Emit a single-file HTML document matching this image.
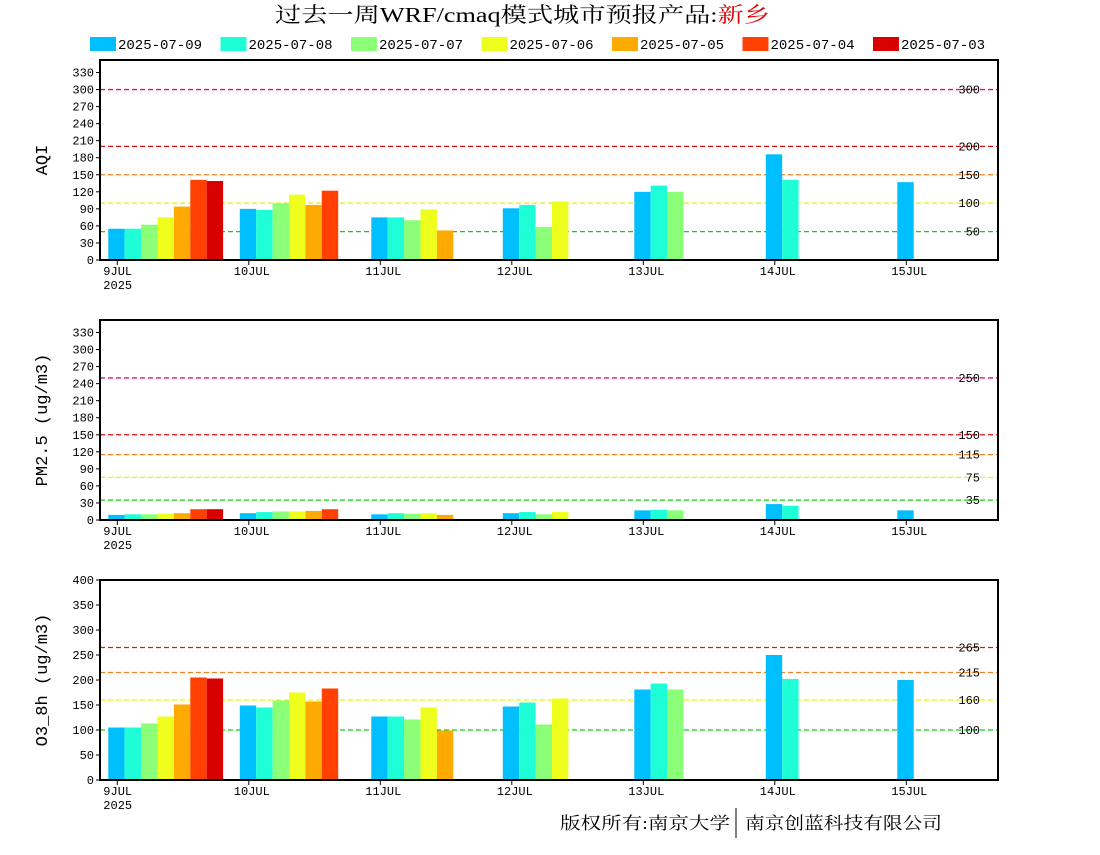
<!DOCTYPE html>
<html><head><meta charset="utf-8"><style>
body{margin:0;background:#fff;}
svg text{font-family:"Liberation Mono","Noto Sans CJK SC",monospace;}
</style></head><body>
<svg id="c" width="1100" height="850" viewBox="0 0 1100 850">
<text x="275" y="22" textLength="495" lengthAdjust="spacingAndGlyphs" font-size="21" style="font-family:'Liberation Serif','Noto Serif CJK SC',serif">过去一周WRF/cmaq模式城市预报产品:<tspan fill="#e00000">新乡</tspan></text>
<g id="legend"></g>
<g id="panels"></g>
<text x="560" y="829" textLength="170" lengthAdjust="spacingAndGlyphs" font-size="17" style="font-family:'Liberation Serif','Noto Serif CJK SC',serif">版权所有:南京大学</text>
<line x1="736" y1="808" x2="736" y2="838" stroke="#000"/>
<text x="745" y="829" textLength="197" lengthAdjust="spacingAndGlyphs" font-size="17" style="font-family:'Noto Serif CJK SC',serif">南京创蓝科技有限公司</text>
</svg>
<script>
const seriesNames=["2025-07-09","2025-07-08","2025-07-07","2025-07-06","2025-07-05","2025-07-04","2025-07-03"];
const colors=["#00bfff","#1effd8","#8cff78","#eeff1e","#ffaa00","#ff4000","#d90000"];
const days=["9JUL","10JUL","11JUL","12JUL","13JUL","14JUL","15JUL"];
const aqiValues=[[55,55,62,75,94,141,139],[90,88,100,115,97,122],[75,75,70,89,52],[91,97,58,103],[120,131,120],[186,141],[137]];
const pm25Values=[[9,10,10,11,12,19,19],[12,14,15,15,16,19],[10,12,11,12,9],[12,14,10,14],[17,18,17],[28,25],[17]];
const o3Values=[[105,105,113,127,151,205,203],[149,145,159,175,157,183],[127,127,121,145,99],[147,155,111,163],[181,193,181],[250,202],[200]];
const aqiTicks=[0,30,60,90,120,150,180,210,240,270,300,330];
const pmTicks=[0,30,60,90,120,150,180,210,240,270,300,330];
const o3Ticks=[0,50,100,150,200,250,300,350,400];
const aqiRefs=[300,200,150,100,50];
const pmRefs=[250,150,115,75,35];
const o3Refs=[265,215,160,100];
const refColors5=["#e0107a","#e01010","#f08020","#f0f000","#10d010"];
const refColors4=["#f01010","#f08020","#f0f000","#10d010"];
const NS="http://www.w3.org/2000/svg";
function mk(t,a,p){const e=document.createElementNS(NS,t);for(const k in a)e.setAttribute(k,a[k]);p.appendChild(e);return e;}
const lg=document.getElementById('legend');
seriesNames.forEach((n,i)=>{const x=90+i*130.5;
 const r=mk('rect',{x:x,y:37,width:26,height:14,fill:colors[i]},lg);
 
 const t=mk('text',{x:x+28,y:49,'font-size':14},lg);t.textContent=n;
 });
const L=100,R=998,X0=117.3,DX=131.5,BW=16.4;
function xDay(d){return X0+d*DX;}
function panel(name,top,max,ticks,vals,refs,rc,ylabel){
 const bot=top+200;const g=mk('g',{},document.getElementById('panels'));
 
 const y=v=>bot-v/max*200;
 refs.forEach((r,i)=>{const l=mk('line',{x1:L,x2:R,y1:y(r),y2:y(r),stroke:rc[i],'stroke-dasharray':'5,3','stroke-width':1.3},g);
  
  const t=mk('text',{x:980,y:y(r)+4,'text-anchor':'end','font-size':12},g);t.textContent=r;
  });
 vals.forEach((arr,d)=>arr.forEach((v,i)=>{const b=mk('rect',{x:xDay(d)-9+i*BW,y:y(v),width:BW,height:bot-y(v),fill:colors[i]},g);
  }));
 const f=mk('rect',{x:L,y:top,width:R-L,height:200,fill:'none',stroke:'#000','stroke-width':2},g);
 
 ticks.forEach(t=>{mk('line',{x1:L-4,x2:L,y1:y(t),y2:y(t),stroke:'#000'},g);
  const tx=mk('text',{x:L-6,y:y(t)+4,'text-anchor':'end','font-size':12},g);tx.textContent=t;
  });
 days.forEach((d,i)=>{mk('line',{x1:xDay(i),x2:xDay(i),y1:bot,y2:bot+5,stroke:'#000'},g);
  const tx=mk('text',{x:xDay(i)-15,y:bot+15,'font-size':12},g);tx.textContent=d;
  if(i==0)tx.setAttribute('x',xDay(i)-14);
  });
 const yr=mk('text',{x:xDay(0)-14,y:bot+29,'font-size':12},g);yr.textContent='2025';
 
 const yl=mk('text',{x:0,y:0,'font-size':17,'text-anchor':'middle',transform:`translate(47,${top+100}) rotate(-90)`},g);yl.textContent=ylabel;
 }
panel('aqi',60,352,aqiTicks,aqiValues,aqiRefs,refColors5,'AQI');
panel('pm25',320,352,pmTicks,pm25Values,pmRefs,refColors5,'PM2.5 (ug/m3)');
panel('o3',580,400,o3Ticks,o3Values,o3Refs,refColors4,'O3_8h (ug/m3)');
</script>
</body></html>
